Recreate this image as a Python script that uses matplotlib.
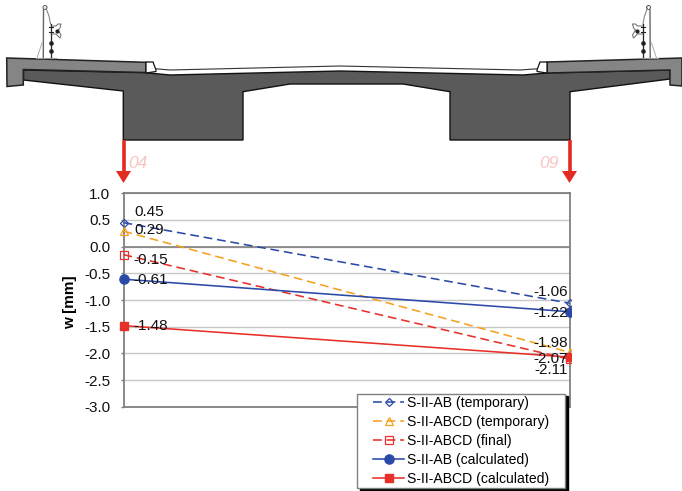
import matplotlib
matplotlib.use("Agg")
import matplotlib.pyplot as plt
from matplotlib.lines import Line2D
from matplotlib.legend_handler import HandlerLine2D
from matplotlib.patches import Polygon, Circle, Rectangle

plt.rcParams['font.family'] = ['Liberation Sans', 'DejaVu Sans']

W, H = 682, 491

# chart data
sections = ["04", "09"]
x_pos = [0, 1]
ab_temp = [0.45, -1.06]
abcd_temp = [0.29, -1.98]
abcd_final = [-0.15, -2.11]
ab_calc = [-0.61, -1.22]
abcd_calc = [-1.48, -2.07]
yticks = [1.0, 0.5, 0.0, -0.5, -1.0, -1.5, -2.0, -2.5, -3.0]

BLUE = "#2b4aa8"
ORANGE = "#f5a11f"
RED = "#e8302a"

# bridge outline, picture pixels
girder = [(23.5, 70), (145, 72.7), (170, 75), (340, 71), (523, 75), (547, 73), (670, 70),
          (670, 79), (570, 91.7), (570, 140), (450, 140), (450, 91.7), (403, 84), (290, 84),
          (243, 91.7), (243, 140), (123.3, 140), (123.3, 91), (23.5, 80)]
cap_left = [(6.7, 58), (146, 62.3), (146, 72.5), (23.3, 69.5), (23.3, 85), (7, 86.5)]
cap_right = [(547, 62), (682, 58), (682, 86), (670, 85), (670, 70), (547, 73)]
curb_left = [(146, 62), (153, 62), (156, 70), (156, 71.5), (146, 73)]
curb_right = [(547, 62), (540, 62), (537, 70), (537, 71.5), (547, 73)]
road = [(156, 68.8), (170, 70), (340, 66), (520, 70), (537, 68.8)]

fig = plt.figure(figsize=(W / 100, H / 100), dpi=100)

bg = fig.add_axes([0, 0, 1, 1], zorder=3)
bg.set_xlim(0, W)
bg.set_ylim(H, 0)
bg.axis("off")
bg.patch.set_alpha(0)

bg.add_patch(Polygon(girder, fc="#5a5a5a", ec="#111111", lw=1))
bg.add_patch(Polygon(cap_left, fc="#858585", ec="#222222", lw=1.1))
bg.add_patch(Polygon(cap_right, fc="#858585", ec="#222222", lw=1.1))
bg.add_patch(Polygon(curb_left, fc="white", ec="#111111", lw=0.9))
bg.add_patch(Polygon(curb_right, fc="white", ec="#111111", lw=0.9))
bg.plot(*zip(*road), color="#333333", lw=0.8)


def pole(s):
    # s=1 left side, s=-1 right side (mirrored around the deck centre)
    c = lambda x: x if s == 1 else 693.5 - x
    bg.plot([c(43.3), c(43.5)], [58, 10], color="#666666", lw=1)
    bg.plot([c(46), c(49), c(50.5)], [8, 16, 24], color="#888888", lw=0.8)
    bg.add_patch(Circle((c(45), 7.5), 2, fc="white", ec="#555555", lw=0.7))
    bg.plot([c(37), c(42)], [58, 43], color="#aaaaaa", lw=0.7)
    bg.plot([c(50.5), c(50.5)], [24, 58], color="#222222", lw=0.9)
    bg.plot([c(36), c(56)], [58.3, 58.3], color="#999999", lw=0.8)
    bg.plot([c(50.5), c(50.5)], [43, 51], ls="none", marker="o", ms=2.3, color="#222222")
    bg.plot([c(49), c(53)], [27, 27], color="#222222", lw=0.8)
    bg.plot([c(49), c(53)], [32, 32], color="#222222", lw=0.8)
    bg.plot([c(51), c(56), c(58), c(61), c(60), c(58), c(61), c(60), c(56), c(51)],
            [26, 26, 24, 24, 28, 30, 35, 38, 34, 34], color="#666666", lw=0.7)
    bg.plot([c(56.5)], [30.5], marker="o", ms=2, color="#222222")


pole(1)
pole(-1)

ax = fig.add_axes([123.5 / W, 1 - 406.7 / H, (569.5 - 123.5) / W, (406.7 - 193.3) / H], zorder=2)
ax.set_xlim(0, 1)
ax.set_ylim(-3, 1)
ax.set_yticks(yticks)
ax.set_yticklabels(["%.1f" % v for v in yticks], fontsize=11)
ax.set_xticks([])
ax.set_axisbelow(True)
ax.grid(axis="y", color="#c8c8c8", lw=1)
ax.axhline(0, color="#808080", lw=1.2, zorder=1)
for side in ax.spines.values():
    side.set_color("#808080")
    side.set_linewidth(1.3)
ax.tick_params(axis="y", color="#808080", length=2.5, width=1, pad=7, labelcolor="#111111")
ax.set_ylabel("w [mm]", fontsize=11, fontweight="bold")
ax.yaxis.set_label_coords((77 - 123.5) / (569.5 - 123.5), 0.49)

dash = (0, (5.5, 3))
lines = []
lines += ax.plot(x_pos, ab_temp, color=BLUE, ls=dash, lw=1.15, marker="D", ms=3.9, mfc="none",
                 mew=0.9, label="S-II-AB (temporary)")
lines += ax.plot(x_pos, abcd_temp, color=ORANGE, ls=dash, lw=1.15, marker="^", ms=6, mfc="none",
                 mew=0.9, label="S-II-ABCD (temporary)")
lines += ax.plot(x_pos, abcd_final, color=RED, ls=dash, lw=1.15, marker="s", ms=5.6, mfc="none",
                 mew=0.9, label="S-II-ABCD (final)")
lines += ax.plot(x_pos, ab_calc, color=BLUE, lw=1.15, marker="o", ms=6.6,
                 label="S-II-AB (calculated)")
lines += ax.plot(x_pos, abcd_calc, color=RED, lw=1.15, marker="s", ms=6.4,
                 label="S-II-ABCD (calculated)")
# markers spill over the left axis but are cut at the right one
keep = Rectangle((0, 0), 570.5 / W, 1, transform=fig.transFigure)
for ln in lines:
    ln.set_zorder(5)
    ln.set_clip_path(keep)

# value labels: (series, dx px, dy px up)
for series, dx0, dy0, dx1, dy1 in [(ab_temp, 10.5, 11, -2, 11), (abcd_temp, 11, 1, -2, 9),
                                   (abcd_final, 10, -5, -2, -11), (ab_calc, 10, -1, -2, -1),
                                   (abcd_calc, 10, 0, -2, -1.5)]:
    ax.annotate("%.2f" % series[0], (0, series[0]), xytext=(dx0 * 0.72, dy0 * 0.72),
                textcoords="offset points", ha="left", va="center", fontsize=11,
                color="#111111", annotation_clip=False, zorder=6)
    ax.annotate("%.2f" % series[1], (1, series[1]), xytext=(dx1 * 0.72, dy1 * 0.72),
                textcoords="offset points", ha="right", va="center", fontsize=11,
                color="#111111", annotation_clip=False, zorder=6)

leg = ax.legend(loc="lower left", bbox_to_anchor=(357 / W, 1 - 488 / H, 208 / W, 95 / H),
                bbox_transform=fig.transFigure, mode="expand", fontsize=10.1, borderaxespad=0,
                fancybox=False, framealpha=1, edgecolor="#808080", labelspacing=0.35,
                handlelength=3.19, handletextpad=0.2, borderpad=0.17,
                handler_map={Line2D: HandlerLine2D(xpad=0.97)},
                shadow={"facecolor": "black", "edgecolor": "black", "alpha": 1})
leg.get_frame().set_linewidth(1)
leg.set_zorder(10)

# arrows from the girder to the chart
for x, label, lx in [(123.5, sections[0], 138), (569.5, sections[1], 549)]:
    bg.plot([x, x], [140, 172], color="#e32b22", lw=2.6, solid_capstyle="butt")
    bg.add_patch(Polygon([(x - 7.5, 171), (x + 7.5, 171), (x, 183)], fc="#e32b22", ec="none"))
    bg.text(lx, 163, label, color="#f9c4c0", fontsize=12.5, style="italic",
            ha="center", va="center")

fig.savefig("out.png", dpi=100)
